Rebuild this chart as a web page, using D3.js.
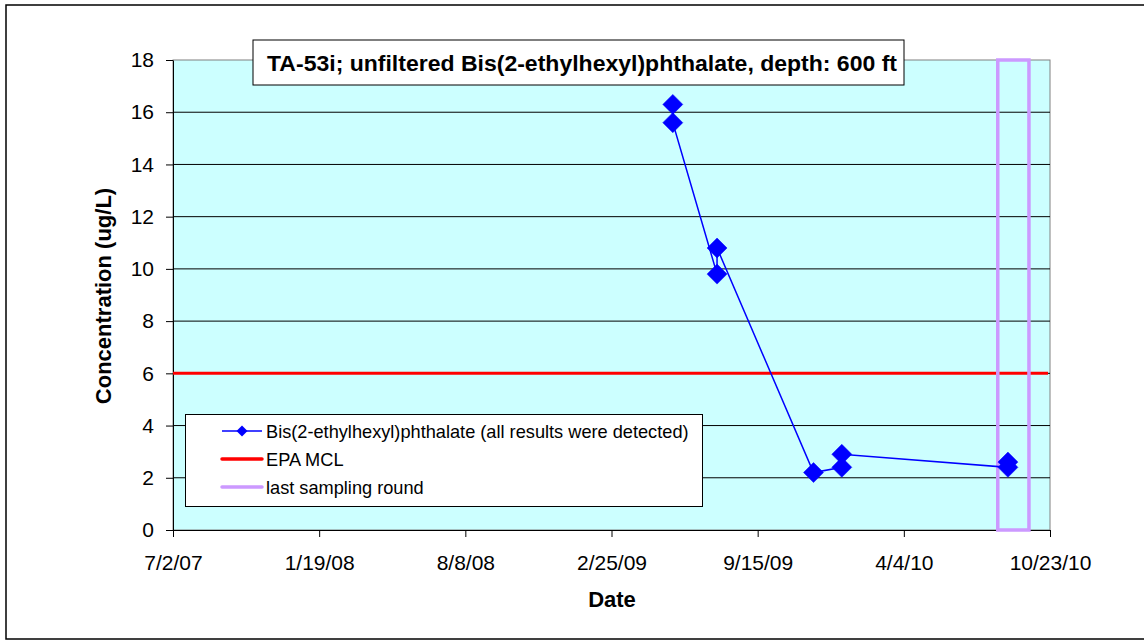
<!DOCTYPE html>
<html><head><meta charset="utf-8">
<script src="https://cdn.jsdelivr.net/npm/d3@7"></script>
<style>body{margin:0;background:#fff;} svg{display:block;font-family:Arial,"Liberation Sans",sans-serif;}</style>
</head><body>
<svg id="c" width="1144" height="641"></svg>
<script>
const sampleDates = ["2009-05-21","2009-05-21","2009-07-21","2009-07-21","2009-12-01","2010-01-09","2010-01-09","2010-08-26","2010-08-26"];
const concentrations = [16.3,15.6,9.8,10.8,2.2,2.4,2.9,2.4,2.6];
const mclValue = 6;
const lastRoundStart = "2010-08-12";
const lastRoundEnd = "2010-09-24";
const xTickLabels = ["7/2/07","1/19/08","8/8/08","2/25/09","9/15/09","4/4/10","10/23/10"];
const yTicks = [0,2,4,6,8,10,12,14,16,18];
const xStart = "2007-07-02", xEnd = "2010-10-23";
const titleText = "TA-53i; unfiltered Bis(2-ethylhexyl)phthalate, depth: 600 ft";
const legendLabels = ["Bis(2-ethylhexyl)phthalate (all results were detected)","EPA MCL","last sampling round"];

const parse = d3.utcParse("%Y-%m-%d");
const svg = d3.select("#c");
const L=173, R=1050, T=60, B=530;
const x = d3.scaleUtc().domain([parse(xStart), parse(xEnd)]).range([L,R]);
const y = d3.scaleLinear().domain([0,18]).range([B,T]);
const FF = "Arial, 'Liberation Sans', sans-serif";

// outer border
svg.append("rect").attr("x",6).attr("y",5).attr("width",1140).attr("height",634)
  .attr("fill","#fff").attr("stroke","#000").attr("stroke-width",1.5);

// plot background
svg.append("rect").attr("x",L).attr("y",T).attr("width",R-L).attr("height",B-T)
  .attr("fill","#CCFFFF").attr("stroke","#808080").attr("stroke-width",1);

// gridlines
svg.append("g").selectAll("line").data(yTicks.filter(v=>v>0 && v<18)).join("line")
  .attr("x1",L).attr("x2",R).attr("y1",d=>y(d)).attr("y2",d=>y(d))
  .attr("stroke","#000").attr("stroke-width",1);

// axes
const span = parse(xEnd) - parse(xStart);
const xTickVals = xTickLabels.map((t,i)=> new Date(+parse(xStart) + span*i/(xTickLabels.length-1)));
const xAxis = d3.axisBottom(x).tickValues(xTickVals).tickFormat((d,i)=>xTickLabels[i]).tickSize(7).tickSizeOuter(0).tickPadding(18);
const gx = svg.append("g").attr("transform",`translate(0,${B})`).call(xAxis);
gx.select(".domain").attr("stroke","#000");
gx.selectAll("text").attr("font-size",21).attr("fill","#000").attr("font-family",FF);

const yAxis = d3.axisLeft(y).tickValues(yTicks).tickSize(7).tickSizeOuter(0).tickPadding(12);
const gy = svg.append("g").attr("transform",`translate(${L},0)`).call(yAxis);
gy.select(".domain").attr("stroke","#000");
gy.selectAll("text").attr("font-size",21).attr("fill","#000").attr("font-family",FF);

// MCL line
svg.append("line").attr("x1",L).attr("x2",R-2).attr("y1",y(mclValue)).attr("y2",y(mclValue))
  .attr("stroke","#FF0000").attr("stroke-width",3);

// last sampling round rect
svg.append("rect").attr("x",x(parse(lastRoundStart))).attr("y",y(18))
  .attr("width",x(parse(lastRoundEnd))-x(parse(lastRoundStart))).attr("height",y(0)-y(18))
  .attr("fill","none").attr("stroke","#CC99FF").attr("stroke-width",3.5);

// data series
const data = sampleDates.map((d,i)=>({date:parse(d), v:concentrations[i]}));
svg.append("path").datum(data)
  .attr("d",d3.line().x(d=>x(d.date)).y(d=>y(d.v)))
  .attr("fill","none").attr("stroke","#0000FF").attr("stroke-width",1.5);
const diamond = r => `M0,${-r}L${r},0L0,${r}L${-r},0Z`;
svg.append("g").selectAll("path").data(data).join("path")
  .attr("transform",d=>`translate(${x(d.date)},${y(d.v)})`)
  .attr("d",diamond(10)).attr("fill","#0000FF").attr("stroke","#0000FF").attr("stroke-width",0.5);

// title box
svg.append("rect").attr("x",253).attr("y",40).attr("width",651).attr("height",45)
  .attr("fill","#fff").attr("stroke","#000").attr("stroke-width",1);
svg.append("text").attr("x",267).attr("y",71).attr("text-anchor","start")
  .attr("font-size",22.5).attr("font-weight","bold")
  .attr("textLength",630).attr("lengthAdjust","spacingAndGlyphs").text(titleText);

// legend
const lg = svg.append("g");
lg.append("rect").attr("x",185.5).attr("y",414.5).attr("width",517).attr("height",92)
  .attr("fill","#fff").attr("stroke","#000").attr("stroke-width",1);
const rows = [431, 459, 487];
lg.append("line").attr("x1",222).attr("x2",262).attr("y1",rows[0]).attr("y2",rows[0]).attr("stroke","#0000FF").attr("stroke-width",1.5);
lg.append("path").attr("transform",`translate(242,${rows[0]})`).attr("d",diamond(5.5)).attr("fill","#0000FF");
lg.append("line").attr("x1",222).attr("x2",262).attr("y1",rows[1]).attr("y2",rows[1]).attr("stroke","#FF0000").attr("stroke-width",3.5).attr("stroke-linecap","round");
lg.append("line").attr("x1",222).attr("x2",262).attr("y1",rows[2]).attr("y2",rows[2]).attr("stroke","#CC99FF").attr("stroke-width",3.5).attr("stroke-linecap","round");
legendLabels.forEach((t,i)=>{
  lg.append("text").attr("x",266).attr("y",rows[i]+6.5).attr("font-size",18.2).text(t);
});

// axis titles
svg.append("text").attr("x",612).attr("y",607).attr("text-anchor","middle")
  .attr("font-size",22).attr("font-weight","bold").text("Date");
svg.append("text").attr("transform","translate(111,296) rotate(-90)").attr("text-anchor","middle")
  .attr("font-size",22).attr("font-weight","bold").text("Concentration (ug/L)");
</script>
</body></html>
